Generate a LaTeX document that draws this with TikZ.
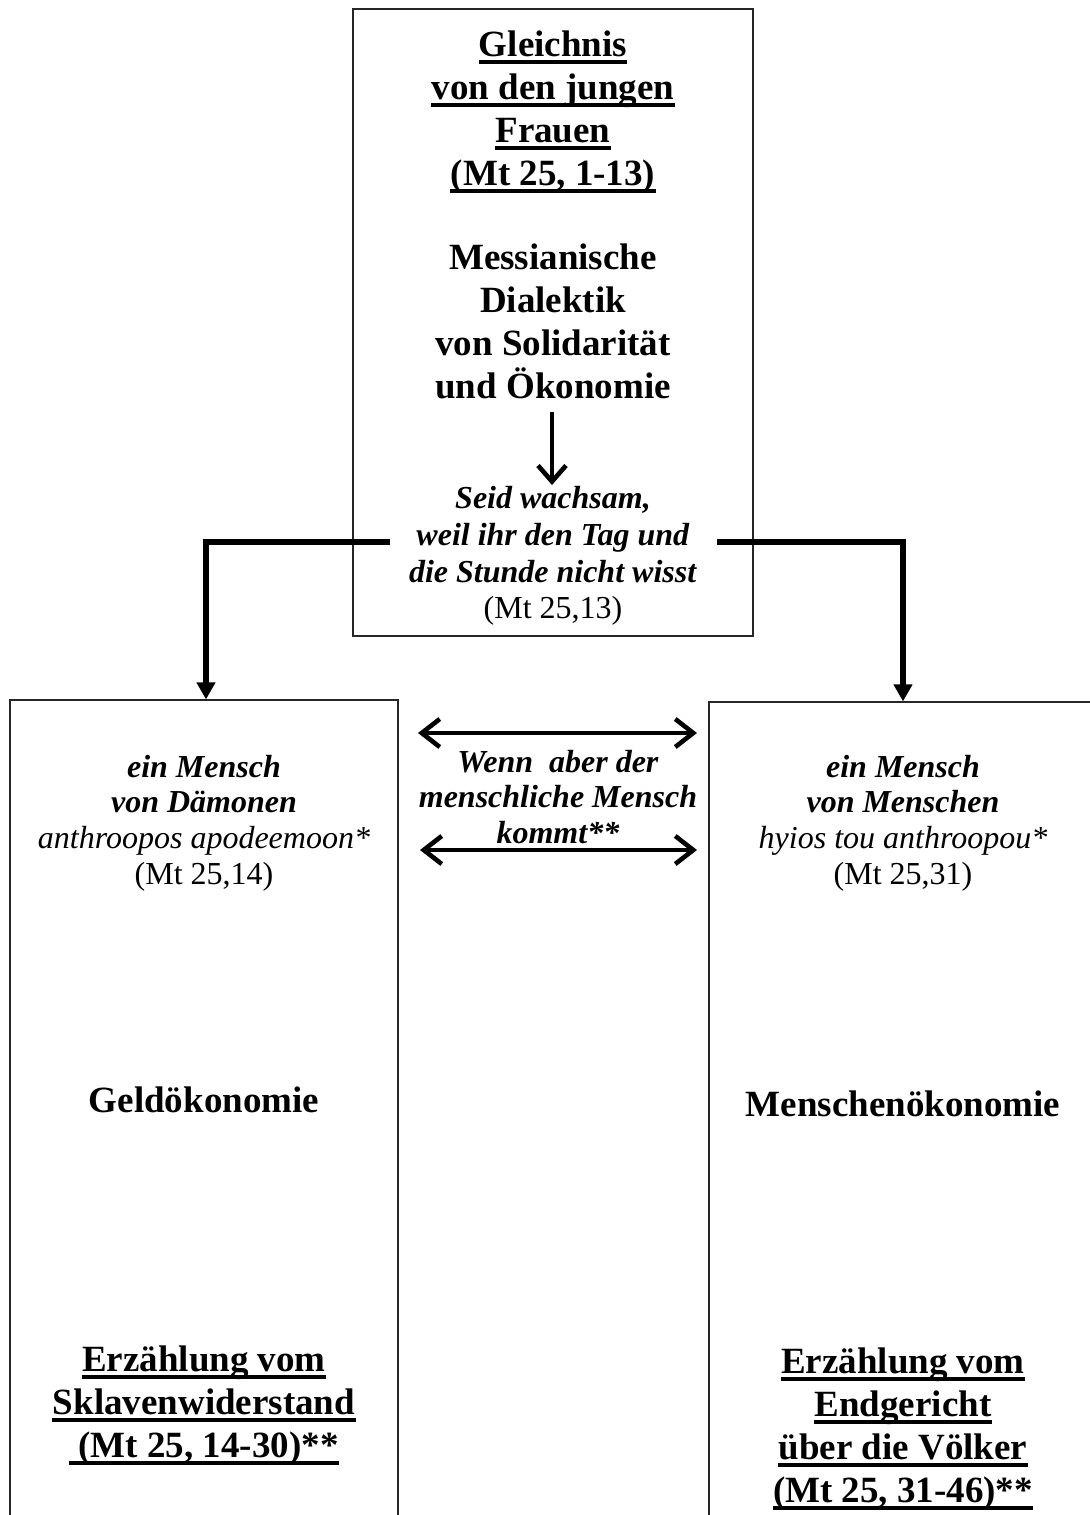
\documentclass[tikz,border=0pt]{standalone}
\usepackage{fontspec}
\setmainfont{Liberation Serif}
\usetikzlibrary{arrows.meta}
\begin{document}
\begin{tikzpicture}[x=0.5pt,y=-0.5pt,
  frame/.style={draw=black!85,line width=0.6pt,inner sep=0pt},
  bigtxt/.style={align=center,font=\fontsize{18.5}{21.5}\selectfont\bfseries,inner sep=0pt},
  ulline/.style={bigtxt,anchor=base},
  ulrule/.style={line width=2.2pt},
  smtxt/.style={align=center,font=\fontsize{16}{17.8}\selectfont,inner sep=0pt},
  fat/.style={line width=3.3pt,-{Triangle[length=8.5pt,width=9pt]}},
  barb/.style={line width=2.3pt,{Straight Barb[length=9pt,width=14pt,line width=2.3pt]}-{Straight Barb[length=9pt,width=14pt,line width=2.3pt]}},
  down/.style={line width=2.3pt,-{Straight Barb[length=8pt,width=14pt,line width=2.3pt]}}]
\useasboundingbox (0,0) rectangle (1090,1515);
% boxes
\node[frame,minimum width=200pt,minimum height=313.5pt] (top) at (553,322.5) {};
\node[frame,minimum width=194pt,minimum height=420pt] (lbox) at (204,1120) {};
\node[frame,minimum width=200pt,minimum height=420pt] (rbox) at (909,1122) {};
% top box text
\node[ulline] (ga) at (553,56) {Gleichnis};
\node[ulline] (gb) at (553,99) {von den jungen};
\node[ulline] (gc) at (553,142) {Frauen};
\node[ulline] (gd) at (553,185) {(Mt 25, 1-13)};
\node[bigtxt] (t2) at (553,321) {Messianische\\Dialektik\\von Solidarität\\und Ökonomie};
\node[smtxt,font=\fontsize{16}{18.3}\selectfont] (t3) at (553,556) {\textbf{\textit{Seid wachsam,}}\\\textbf{\textit{weil ihr den Tag und}}\\\textbf{\textit{die Stunde nicht wisst}}\\(Mt 25,13)};
\coordinate (a1) at (552,412);
\coordinate (a2) at (552,485);
\draw[down] (a1) -- (a2);
% left box text
\node[smtxt] (l1) at (204,823) {\textbf{\textit{ein Mensch}}\\\textbf{\textit{von Dämonen}}\\\textit{anthroopos apodeemoon*}\\(Mt 25,14)};
\node[bigtxt] (l2) at (204,1100) {Geldökonomie};
\node[ulline] (sa) at (204,1371) {Erzählung vom};
\node[ulline] (sb) at (204,1414) {Sklavenwiderstand};
\node[ulline] (sc) at (204,1457) {\ (Mt 25, 14-30)**};
% right box text
\node[smtxt] (r1) at (903,823) {\textbf{\textit{ein Mensch}}\\\textbf{\textit{von Menschen}}\\\textit{hyios tou anthroopou*}\\(Mt 25,31)};
\node[bigtxt] (r2) at (903,1104) {Menschenökonomie};
\node[ulline] (ea) at (903,1373) {Erzählung vom};
\node[ulline] (eb) at (903,1416) {Endgericht};
\node[ulline] (ec) at (903,1459) {über die Völker};
\node[ulline] (ed) at (903,1502) {(Mt 25, 31-46)**};
\foreach \n in {ga,gb,gc,gd,sa,sb,sc,ea,eb,ec,ed}
  \draw[ulrule] ([yshift=-3pt]\n.base west) -- ([yshift=-3pt]\n.base east);
% middle text
\node[smtxt] (m) at (558,797) {\textbf{\textit{Wenn\ \ aber der}}\\\textbf{\textit{menschliche Mensch}}\\\textbf{\textit{kommt**}}};
% connectors
\coordinate (ls) at (390,542);
\coordinate (lc) at (206,542);
\coordinate (rs) at (717,542);
\coordinate (rc) at (903,542);
\draw[fat] (ls) -- (lc) -- (lc |- lbox.north);
\draw[fat] (rs) -- (rc) -- (rc |- rbox.north);
\coordinate (d1l) at (418,733);
\coordinate (d1r) at (697,733);
\coordinate (d2l) at (420,850);
\coordinate (d2r) at (697,850);
\draw[barb] (d1l) -- (d1r);
\draw[barb] (d2l) -- (d2r);
\end{tikzpicture}
\end{document}
